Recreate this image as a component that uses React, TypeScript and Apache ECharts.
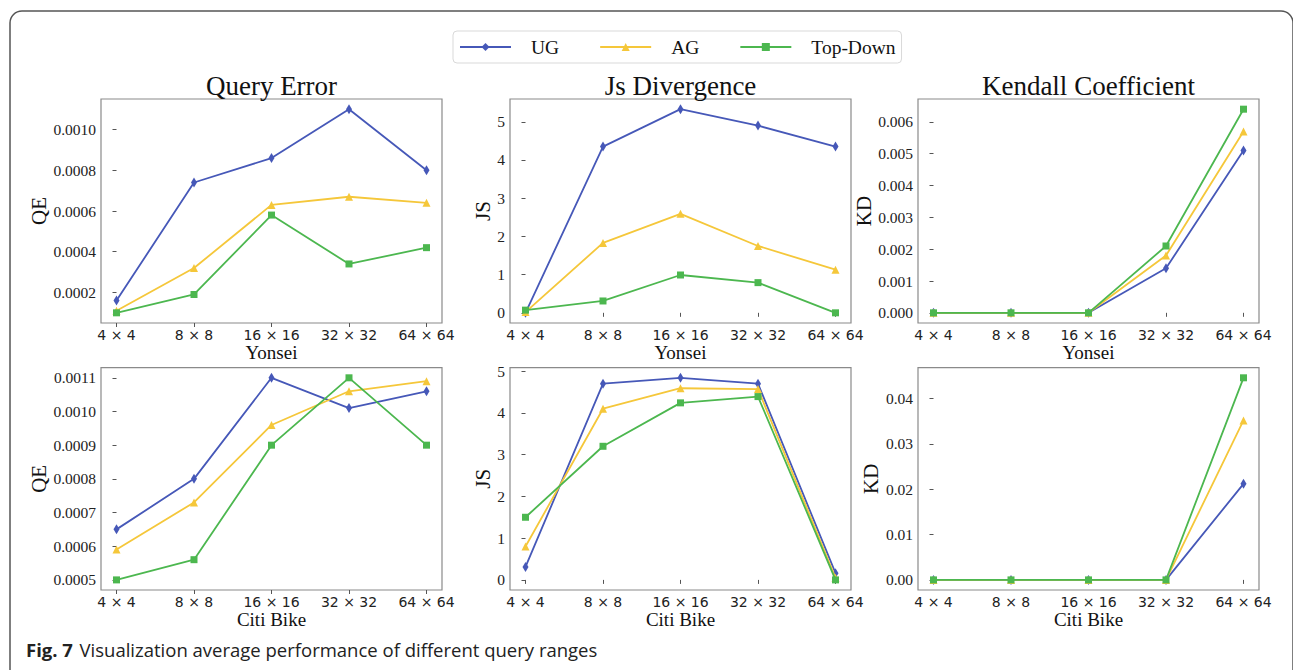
import React, { useEffect, useRef } from "react";
import * as echarts from "echarts";

// ---------- data ----------
const categories = ["4 \u00d7 4", "8 \u00d7 8", "16 \u00d7 16", "32 \u00d7 32", "64 \u00d7 64"];
const seriesNames = ["UG", "AG", "Top-Down"];

// Yonsei
const qeYonseiUG = [0.00016, 0.00074, 0.00086, 0.0011, 0.0008];
const qeYonseiAG = [0.00011, 0.00032, 0.00063, 0.00067, 0.00064];
const qeYonseiTD = [0.0001, 0.00019, 0.00058, 0.00034, 0.00042];
const jsYonseiUG = [0.0, 4.35, 5.33, 4.9, 4.35];
const jsYonseiAG = [0.02, 1.83, 2.59, 1.75, 1.13];
const jsYonseiTD = [0.07, 0.31, 0.99, 0.79, 0.0];
const kdYonseiUG = [0, 0, 0, 0.0014, 0.0051];
const kdYonseiAG = [0, 0, 0, 0.0018, 0.0057];
const kdYonseiTD = [0, 0, 0, 0.0021, 0.0064];

// Citi Bike
const qeCitiUG = [0.00065, 0.0008, 0.0011, 0.00101, 0.00106];
const qeCitiAG = [0.00059, 0.00073, 0.00096, 0.00106, 0.00109];
const qeCitiTD = [0.0005, 0.00056, 0.0009, 0.0011, 0.0009];
const jsCitiUG = [0.31, 4.7, 4.84, 4.7, 0.16];
const jsCitiAG = [0.8, 4.1, 4.59, 4.57, 0.05];
const jsCitiTD = [1.5, 3.2, 4.24, 4.39, 0.0];
const kdCitiUG = [0, 0, 0, 0, 0.0212];
const kdCitiAG = [0, 0, 0, 0, 0.0352];
const kdCitiTD = [0, 0, 0, 0, 0.0446];

// tick labels
const yTicksQEYonsei = [0.0002, 0.0004, 0.0006, 0.0008, 0.001];
const yTicksJSYonsei = [0, 1, 2, 3, 4, 5];
const yTicksKDYonsei = [0, 0.001, 0.002, 0.003, 0.004, 0.005, 0.006];
const yTicksQECiti = [0.0005, 0.0006, 0.0007, 0.0008, 0.0009, 0.001, 0.0011];
const yTicksJSCiti = [0, 1, 2, 3, 4, 5];
const yTicksKDCiti = [0, 0.01, 0.02, 0.03, 0.04];

const titles = ["Query Error", "Js Divergence", "Kendall Coefficient"];
const datasetNames = ["Yonsei", "Citi Bike"];
const metricNames = ["QE", "JS", "KD"];
const caption = "Visualization average performance of different query ranges";

// ---------- layout / style ----------
const COLORS = ["#4658b8", "#f5c73a", "#4cb74f"];
const SYMBOLS = ["diamond", "triangle", "rect"];
const SYMBOL_SIZES: any[] = [[6, 10], 8, 7];
const COL_LEFT = [101, 510, 918];
const COL_W = 341;
const ROW_TOP = [99, 367.7];
const ROW_H = [224, 222.3];
const Y_NAME_GAP = [47, 14, 33];
const SERIF = "'Liberation Serif', 'Times New Roman', serif";
const SANS = "'DejaVu Sans', sans-serif";

const panels = [
  { row: 0, col: 0, values: [qeYonseiUG, qeYonseiAG, qeYonseiTD], ticks: yTicksQEYonsei, dec: 4 },
  { row: 0, col: 1, values: [jsYonseiUG, jsYonseiAG, jsYonseiTD], ticks: yTicksJSYonsei, dec: 0 },
  { row: 0, col: 2, values: [kdYonseiUG, kdYonseiAG, kdYonseiTD], ticks: yTicksKDYonsei, dec: 3 },
  { row: 1, col: 0, values: [qeCitiUG, qeCitiAG, qeCitiTD], ticks: yTicksQECiti, dec: 4 },
  { row: 1, col: 1, values: [jsCitiUG, jsCitiAG, jsCitiTD], ticks: yTicksJSCiti, dec: 0 },
  { row: 1, col: 2, values: [kdCitiUG, kdCitiAG, kdCitiTD], ticks: yTicksKDCiti, dec: 2 },
];

function buildOption() {
  const grid: any[] = [];
  const xAxis: any[] = [];
  const yAxis: any[] = [];
  const series: any[] = [];
  const xIdx = categories.map((_, i) => i);

  panels.forEach((p, k) => {
    grid.push({
      left: COL_LEFT[p.col],
      top: ROW_TOP[p.row],
      width: COL_W,
      height: ROW_H[p.row],
      show: true,
      borderColor: "#8a8a8a",
      borderWidth: 1.2,
      backgroundColor: "#fff",
      containLabel: false,
    });
    const n = categories.length - 1;
    xAxis.push({
      type: "value",
      gridIndex: k,
      min: -0.05 * n,
      max: n + 0.05 * n,
      axisLine: { show: false },
      splitLine: { show: false },
      axisTick: {
        show: true,
        length: 4,
        lineStyle: { color: "#555", width: 1 },
        customValues: xIdx,
      },
      axisLabel: {
        customValues: xIdx,
        margin: 5,
        fontFamily: SANS,
        fontSize: 14,
        color: "#222",
        formatter: (v: number) => categories[Math.round(v)] ?? "",
      },
      name: datasetNames[p.row],
      nameLocation: "middle",
      nameGap: 20,
      nameTextStyle: { fontFamily: SERIF, fontSize: 19, color: "#111" },
    });
    const all = p.values.flat();
    const lo = Math.min(...all);
    const hi = Math.max(...all);
    const pad = (hi - lo) * 0.05;
    yAxis.push({
      type: "value",
      gridIndex: k,
      min: lo - pad,
      max: hi + pad,
      axisLine: { show: false },
      splitLine: { show: false },
      axisTick: {
        show: true,
        length: 4,
        lineStyle: { color: "#555", width: 1 },
        customValues: p.ticks,
      },
      axisLabel: {
        customValues: p.ticks,
        margin: 5,
        fontFamily: SERIF,
        fontSize: 15.5,
        color: "#222",
        formatter: (v: number) => v.toFixed(p.dec),
      },
      name: metricNames[p.col],
      nameLocation: "middle",
      nameGap: Y_NAME_GAP[p.col],
      nameRotate: 90,
      nameTextStyle: { fontFamily: SERIF, fontSize: 21, color: "#111" },
    });
    p.values.forEach((vals, s) => {
      series.push({
        type: "line",
        name: seriesNames[s],
        xAxisIndex: k,
        yAxisIndex: k,
        data: vals.map((v, i) => [xIdx[i], v]),
        symbol: SYMBOLS[s],
        symbolSize: SYMBOL_SIZES[s],
        showAllSymbol: true,
        color: COLORS[s],
        lineStyle: { color: COLORS[s], width: 1.8 },
        itemStyle: { color: COLORS[s] },
        z: 2 + s,
      });
    });
  });

  const title = titles.map((t, c) => ({
    text: t,
    left: COL_LEFT[c] + COL_W / 2,
    top: 72,
    padding: 0,
    textAlign: "center",
    textStyle: { fontFamily: SERIF, fontSize: 27, fontWeight: "normal", color: "#111" },
  }));

  return {
    animation: false,
    backgroundColor: "#fff",
    title,
    legend: {
      left: 453,
      top: 31,
      padding: 6,
      itemWidth: 51,
      itemHeight: 10,
      itemGap: 40,
      borderColor: "#d9d9d9",
      borderWidth: 1,
      borderRadius: 4,
      data: seriesNames,
      textStyle: { fontFamily: SERIF, fontSize: 19.5, color: "#111", padding: [0, 0, 0, 15] },
    },
    grid,
    xAxis,
    yAxis,
    series,
    graphic: [
      {
        type: "rect",
        z: -10,
        silent: true,
        shape: { x: 10, y: 11, width: 1283, height: 700, r: 12 },
        style: { fill: "none", stroke: "#555", lineWidth: 1.5 },
      },
      {
        type: "text",
        left: 26,
        top: 640,
        style: {
          text: "{b|Fig. 7}  {n|" + caption + "}",
          rich: {
            b: { fontFamily: "'Open Sans', 'Noto Sans', sans-serif", fontWeight: "bold", fontSize: 18.5, fill: "#222" },
            n: { fontFamily: "'Open Sans', 'Noto Sans', sans-serif", fontSize: 18.5, fill: "#222" },
          },
        },
      },
    ],
  };
}

export default function App() {
  const ref = useRef<HTMLDivElement>(null);
  useEffect(() => {
    if (!ref.current) return;
    const chart = echarts.init(ref.current, null, { renderer: "svg" });
    chart.setOption(buildOption() as any);
    return () => chart.dispose();
  }, []);
  return (
    <div
      ref={ref}
      style={{ position: "fixed", left: 0, top: 0, width: 1293, height: 670, background: "#fff" }}
    />
  );
}
